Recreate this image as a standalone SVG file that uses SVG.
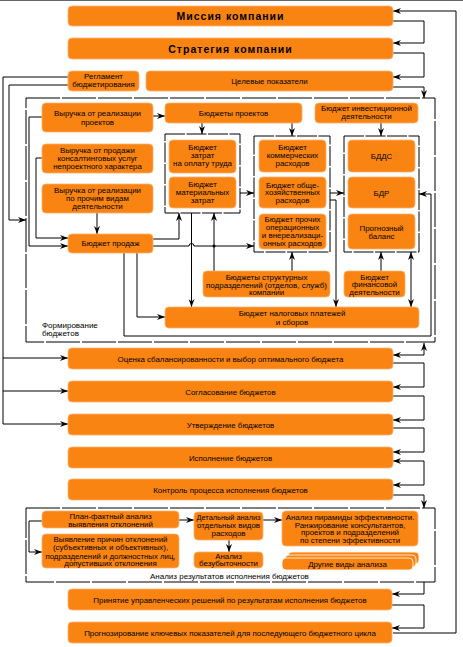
<svg xmlns="http://www.w3.org/2000/svg" width="463" height="647" viewBox="0 0 463 647">
<style>
.b{fill:#FA8412;stroke:#FCB070;stroke-width:0.8}
.t{font-family:"Liberation Sans",Arial,sans-serif;font-size:7.9px;fill:#000;text-anchor:middle}
.l{font-family:"Liberation Sans",Arial,sans-serif;font-size:8px;fill:#000}
.h{font-family:"Liberation Sans",Arial,sans-serif;font-size:10.5px;font-weight:bold;letter-spacing:1px;fill:#000;text-anchor:middle}
.c{fill:none;stroke:#000;stroke-width:1}
.a{fill:none;stroke:#000;stroke-width:1;marker-end:url(#ah)}
.aa{fill:none;stroke:#000;stroke-width:1;marker-start:url(#as);marker-end:url(#ah)}
.d{fill:none;stroke:#000;stroke-width:1;stroke-dasharray:34 2}
.g{fill:none;stroke:#000;stroke-width:1;stroke-dasharray:20 1.5}
.s{fill:#FA8412;stroke:#fff;stroke-width:0.8}
</style>
<defs>
<marker id="ah" markerWidth="9" markerHeight="6" refX="8" refY="3" orient="auto" markerUnits="userSpaceOnUse"><path d="M0,0 L8,3 L0,6 L2.5,3z" fill="#000"/></marker>
<marker id="as" markerWidth="9" markerHeight="6" refX="8" refY="3" orient="auto-start-reverse" markerUnits="userSpaceOnUse"><path d="M0,0 L8,3 L0,6 L2.5,3z" fill="#000"/></marker>
</defs>
<rect x="0" y="0" width="463" height="647" fill="#fff"/>
<line x1="0" y1="0.5" x2="463" y2="0.5" stroke="#666" stroke-width="1"/>

<g id="frames">
<rect class="d" x="26" y="98" width="409" height="244"/>
<rect class="g" x="165" y="134" width="75" height="79"/>
<rect class="g" x="254" y="136" width="76" height="116"/>
<rect class="g" x="344" y="136" width="75" height="116"/>
<rect class="d" x="26" y="508" width="409" height="74"/>
<text class="l" x="42" y="328">Формирование</text>
<text class="l" x="42" y="336">бюджетов</text>
<text class="l" x="150" y="579">Анализ результатов исполнения бюджетов</text>
</g>

<g id="connectors">
<path class="a" d="M393,633 H456 V11 H393"/>
<path class="a" d="M393,21 H424 V43 H393"/>
<path class="a" d="M393,53 H424 V77 H393"/>
<path class="a" d="M393,87 H424 V98"/>
<path class="a" d="M68,77 H3 V424 H68"/>
<path class="a" d="M3,358 H68"/>
<path class="a" d="M3,391 H68"/>
<path class="a" d="M68,85 H9 V220 H26"/>
<path class="a" d="M153,116 H165"/>
<path class="a" d="M42,117 H29 V246 H68"/>
<path class="a" d="M42,158 H36 V238 H68"/>
<path class="a" d="M97,213 V234"/>
<path class="a" d="M202,123 V134"/>
<path class="a" d="M292,123 V136"/>
<path class="a" d="M381,123 V136"/>
<path class="a" d="M240,193 H254"/>
<path class="a" d="M330,193 H344"/>
<path class="a" d="M330,200 H336 V307"/>
<path class="a" d="M153,239 H179 V213"/>
<path class="a" d="M153,246 H189 A2.5,2.5 0 0 1 194,246 H254"/>
<path class="a" d="M191.5,213 V307"/>
<path class="a" d="M214,271 V213"/>
<circle cx="214" cy="246" r="1.5" fill="#000"/>
<path class="a" d="M292,271 V252"/>
<path class="a" d="M381,271 V252"/>
<path class="aa" d="M411,252 V307"/>
<path class="a" d="M137,253 V317 H165"/>
<path class="a" d="M124,253 V336 H431 V194 H419"/>
<path class="aa" d="M393,355 H424 V343"/>
<path class="a" d="M393,363 H424 V387 H393"/>
<path class="a" d="M393,396 H424 V420 H393"/>
<path class="a" d="M393,428 H424 V452 H393"/>
<path class="aa" d="M393,461 H424 V485 H393"/>
<path class="a" d="M393,495 H424 V508"/>
<path class="a" d="M179,520 H194"/>
<path class="a" d="M42,521 H29 V552 H42"/>
<path class="a" d="M229,540 V552"/>
<path class="a" d="M263,520 H282"/>
<path class="a" d="M424,582 V594 H392"/>
<path class="a" d="M392,605 H424 V628 H392"/>
</g>

<g id="mission"><rect class="b" x="68" y="6" width="325" height="20" rx="4"/><text class="h" x="230.5" y="20">Миссия компании</text></g>
<g id="strategy"><rect class="b" x="68" y="38" width="325" height="21" rx="4"/><text class="h" x="230.5" y="52.5">Стратегия компании</text></g>
<g id="reglament"><rect class="b" x="68" y="71" width="71" height="20" rx="4"/><text class="t" x="103.5" y="79">Регламент</text><text class="t" x="103.5" y="87">бюджетирования</text></g>
<g id="targets"><rect class="b" x="146" y="71" width="247" height="20" rx="4"/><text class="t" x="269.5" y="84">Целевые показатели</text></g>

<g id="rev-projects"><rect class="b" x="42" y="103" width="111" height="29" rx="4"/><text class="t" x="97.5" y="116">Выручка от реализации</text><text class="t" x="97.5" y="125">проектов</text></g>
<g id="proj-budgets"><rect class="b" x="165" y="103" width="137" height="20" rx="4"/><text class="t" x="233.5" y="116">Бюджеты проектов</text></g>
<g id="invest"><rect class="b" x="315" y="103" width="103" height="20" rx="4"/><text class="t" x="366.5" y="110.5">Бюджет инвестиционной</text><text class="t" x="366.5" y="119">деятельности</text></g>
<g id="rev-consult"><rect class="b" x="42" y="144" width="111" height="29" rx="4"/><text class="t" x="97.5" y="153">Выручка от продажи</text><text class="t" x="97.5" y="161">консалтинговых услуг</text><text class="t" x="97.5" y="169">непроектного характера</text></g>
<g id="rev-other"><rect class="b" x="42" y="184" width="111" height="29" rx="4"/><text class="t" x="97.5" y="193">Выручка от реализации</text><text class="t" x="97.5" y="201">по прочим видам</text><text class="t" x="97.5" y="209">деятельности</text></g>

<g id="labor"><rect class="b" x="169" y="140" width="67" height="33" rx="4"/><text class="t" x="202.5" y="150">Бюджет</text><text class="t" x="202.5" y="158">затрат</text><text class="t" x="202.5" y="166">на оплату труда</text></g>
<g id="material"><rect class="b" x="169" y="177" width="67" height="31" rx="4"/><text class="t" x="202.5" y="187">Бюджет</text><text class="t" x="202.5" y="195">материальных</text><text class="t" x="202.5" y="203">затрат</text></g>

<g id="commercial"><rect class="b" x="259" y="140" width="67" height="32" rx="4"/><text class="t" x="292.5" y="150">Бюджет</text><text class="t" x="292.5" y="158">коммерческих</text><text class="t" x="292.5" y="166">расходов</text></g>
<g id="overhead"><rect class="b" x="259" y="177" width="67" height="31" rx="4"/><text class="t" x="292.5" y="187.5">Бюджет обще-</text><text class="t" x="292.5" y="195">хозяйственных</text><text class="t" x="292.5" y="202.5">расходов</text></g>
<g id="other-exp"><rect class="b" x="259" y="214" width="67" height="35" rx="4"/><text class="t" x="292.5" y="222">Бюджет прочих</text><text class="t" x="292.5" y="230">операционных</text><text class="t" x="292.5" y="237.5">и внереализаци-</text><text class="t" x="292.5" y="245.5">онных расходов</text></g>

<g id="bdds"><rect class="b" x="348" y="140" width="67" height="32" rx="4"/><text class="t" x="381.5" y="159">БДДС</text></g>
<g id="bdr"><rect class="b" x="348" y="177" width="67" height="31" rx="4"/><text class="t" x="381.5" y="196">БДР</text></g>
<g id="balance"><rect class="b" x="348" y="214" width="67" height="35" rx="4"/><text class="t" x="381.5" y="231">Прогнозный</text><text class="t" x="381.5" y="238.5">баланс</text></g>

<g id="sales"><rect class="b" x="68" y="234" width="85" height="19" rx="4"/><text class="t" x="110.5" y="246">Бюджет продаж</text></g>
<g id="units"><rect class="b" x="203" y="271" width="127" height="26" rx="4"/><text class="t" x="266.5" y="280">Бюджеты структурных</text><text class="t" x="266.5" y="287.5" textLength="121" lengthAdjust="spacingAndGlyphs">подразделений (отделов, служб)</text><text class="t" x="266.5" y="295">компании</text></g>
<g id="finance"><rect class="b" x="344" y="271" width="61" height="26" rx="4"/><text class="t" x="374.5" y="279.5">Бюджет</text><text class="t" x="374.5" y="287">финансовой</text><text class="t" x="374.5" y="294.5">деятельности</text></g>
<g id="tax"><rect class="b" x="165" y="307" width="254" height="21" rx="4"/><text class="t" x="292" y="316">Бюджет налоговых платежей</text><text class="t" x="292" y="324.5">и сборов</text></g>

<g id="evaluate"><rect class="b" x="68" y="348" width="325" height="21" rx="4"/><text class="t" x="230.5" y="361.5">Оценка сбалансированности и выбор оптимального бюджета</text></g>
<g id="agree"><rect class="b" x="68" y="381" width="325" height="21" rx="4"/><text class="t" x="230.5" y="394.5">Согласование бюджетов</text></g>
<g id="approve"><rect class="b" x="68" y="414" width="325" height="21" rx="4"/><text class="t" x="230.5" y="427.5">Утверждение бюджетов</text></g>
<g id="execute"><rect class="b" x="68" y="447" width="325" height="21" rx="4"/><text class="t" x="230.5" y="460.5">Исполнение бюджетов</text></g>
<g id="control"><rect class="b" x="68" y="479" width="325" height="21" rx="4"/><text class="t" x="230.5" y="492.5">Контроль процесса исполнения бюджетов</text></g>

<g id="planfact"><rect class="b" x="42" y="511" width="137" height="17" rx="4"/><text class="t" x="110.5" y="519">План-фактный анализ</text><text class="t" x="110.5" y="527">выявления отклонений</text></g>
<g id="causes"><rect class="b" x="42" y="534" width="137" height="34" rx="4"/><text class="t" x="110.5" y="542">Выявление причин отклонений</text><text class="t" x="110.5" y="550">(субъективных и объективных),</text><text class="t" x="110.5" y="558.5" textLength="130" lengthAdjust="spacingAndGlyphs">подразделений и должностных лиц,</text><text class="t" x="110.5" y="566">допустивших отклонения</text></g>
<g id="detail"><rect class="b" x="194" y="512" width="69" height="28" rx="4"/><text class="t" x="228.5" y="520" textLength="64" lengthAdjust="spacingAndGlyphs">Детальный анализ</text><text class="t" x="228.5" y="528">отдельных видов</text><text class="t" x="228.5" y="536">расходов</text></g>
<g id="breakeven"><rect class="b" x="194" y="552" width="69" height="16" rx="4"/><text class="t" x="228.5" y="558.5">Анализ</text><text class="t" x="228.5" y="566">безубыточности</text></g>
<g id="pyramid"><rect class="b" x="282" y="511" width="136" height="35" rx="4"/><text class="t" x="350" y="520">Анализ пирамиды эффективности.</text><text class="t" x="350" y="527.5">Ранжирование консультантов,</text><text class="t" x="350" y="535">проектов и подразделений</text><text class="t" x="350" y="543">по степени эффективности</text></g>
<g id="other-analysis"><rect class="s" x="288" y="552" width="131" height="12" rx="4"/><rect class="s" x="285" y="555" width="131" height="12" rx="4"/><rect class="s" x="282" y="558" width="131" height="12" rx="4"/><text class="t" x="347.5" y="567">Другие виды анализа</text></g>

<g id="decisions"><rect class="b" x="68" y="589" width="324" height="21" rx="4"/><text class="t" x="230" y="602.5">Принятие управленческих решений по результатам исполнения бюджетов</text></g>
<g id="forecast"><rect class="b" x="68" y="622" width="324" height="21" rx="4"/><text class="t" x="230" y="635.5">Прогнозирование ключевых показателей для последующего бюджетного цикла</text></g>
</svg>
